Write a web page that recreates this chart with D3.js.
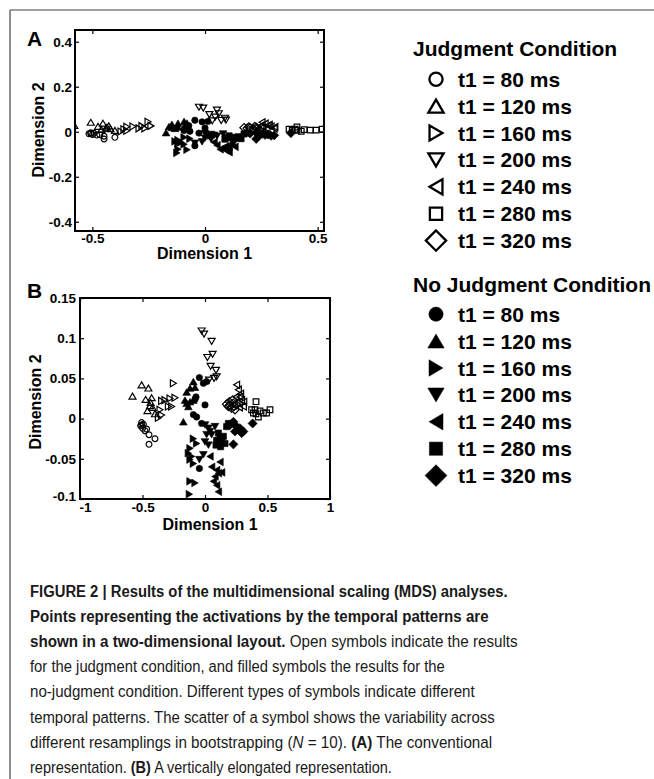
<!DOCTYPE html>
<html>
<head>
<meta charset="utf-8">
<script src="https://cdn.jsdelivr.net/npm/d3@7"></script>
<style>
  html, body { margin: 0; padding: 0; background: #fff; }
  svg { display: block; }
</style>
</head>
<body>
<div id="chart"></div>
<script>
// ---------------- DATA ----------------
const conditions = ["Judgment Condition", "No Judgment Condition"];
const t1Labels = ["t1 = 80 ms", "t1 = 120 ms", "t1 = 160 ms", "t1 = 200 ms", "t1 = 240 ms", "t1 = 280 ms", "t1 = 320 ms"];

// Judgment condition (open symbols): [Dimension 1, Dimension 2]
const j80  = [[-0.507,-0.005],[-0.515,-0.009],[-0.499,-0.012],[-0.480,-0.015],[-0.448,-0.020],[-0.400,-0.025],[-0.448,-0.032],[-0.467,-0.013],[-0.493,-0.007],[-0.507,-0.008]];
const j120 = [[-0.580,0.028],[-0.507,0.042],[-0.453,0.038],[-0.475,0.024],[-0.427,0.026],[-0.440,0.016],[-0.420,0.014],[-0.460,0.010],[-0.400,0.006],[-0.435,0.020]];
const j160 = [[-0.253,0.044],[-0.347,0.022],[-0.320,0.023],[-0.280,0.025],[-0.240,0.026],[-0.293,0.015],[-0.267,0.015],[-0.360,0.011],[-0.347,0.0045],[-0.373,0.001]];
const j200 = [[-0.027,0.109],[-0.008,0.105],[0.053,0.096],[0.061,0.080],[0.019,0.076],[0.045,0.065],[0.088,0.060],[0.093,0.052],[0.072,0.050],[0.032,0.048]];
const j240 = [[0.253,0.042],[0.267,0.036],[0.280,0.027],[0.293,0.023],[0.307,0.015],[0.275,0.014],[0.248,0.027],[0.285,0.031],[0.310,0.021],[0.256,0.020]];
const j280 = [[0.408,0.021],[0.373,0.011],[0.400,0.011],[0.440,0.0095],[0.467,0.007],[0.493,0.007],[0.520,0.011],[0.427,0.002],[0.408,0.006],[0.387,0.007]];
const j320 = [[0.200,0.017],[0.227,0.019],[0.187,0.015],[0.213,0.013],[0.240,0.011],[0.173,0.018],[0.221,0.023],[0.253,0.017],[0.195,0.021],[0.232,0.015]];

// No-judgment condition (filled symbols)
const n80  = [[-0.045,0.051],[-0.013,0.044],[0.013,0.046],[-0.072,0.027],[0.000,0.017],[-0.093,0.005],[-0.067,0.002],[-0.027,-0.006],[-0.045,-0.062],[-0.080,0.024]];
const n120 = [[-0.147,0.033],[-0.173,-0.004],[-0.120,0.038],[-0.093,0.046],[-0.147,0.019],[-0.120,0.021],[-0.133,0.015],[-0.093,0.023],[-0.080,0.039],[-0.160,0.023]];
const n160 = [[-0.093,-0.025],[-0.120,-0.037],[-0.133,-0.043],[-0.120,-0.051],[-0.093,-0.056],[-0.120,-0.078],[-0.080,-0.080],[-0.125,-0.094],[-0.107,-0.047],[-0.067,-0.031]];
const n200 = [[0.000,-0.008],[0.027,-0.012],[0.013,-0.020],[0.040,-0.016],[0.000,-0.029],[0.027,-0.033],[-0.013,-0.045],[-0.045,-0.051],[0.053,-0.020],[0.080,-0.010]];
const n240 = [[0.120,-0.054],[0.093,-0.064],[0.107,-0.068],[0.133,-0.067],[0.080,-0.072],[0.053,-0.060],[0.093,-0.083],[0.107,-0.091],[0.067,-0.078],[0.040,-0.047]];
const n280 = [[0.107,-0.018],[0.120,-0.025],[0.133,-0.029],[0.093,-0.027],[0.147,-0.022],[0.173,-0.010],[0.187,-0.006],[0.160,-0.031],[0.125,-0.035],[0.088,-0.033]];
const n320 = [[0.227,-0.004],[0.253,-0.010],[0.267,-0.014],[0.293,-0.018],[0.307,-0.016],[0.227,-0.032],[0.381,-0.006],[0.200,-0.008],[0.280,-0.012],[0.240,-0.016]];

const judgmentSeries = [j80, j120, j160, j200, j240, j280, j320];
const noJudgmentSeries = [n80, n120, n160, n200, n240, n280, n320];

// Axis ticks
const aXTicks = [-0.5, 0, 0.5];
const aXTickLabels = ["-0.5", "0", "0.5"];
const aYTicks = [-0.4, -0.2, 0, 0.2, 0.4];
const aYTickLabels = ["-0.4", "-0.2", "0", "0.2", "0.4"];
const bXTicks = [-1, -0.5, 0, 0.5, 1];
const bXTickLabels = ["-1", "-0.5", "0", "0.5", "1"];
const bYTicks = [-0.1, -0.05, 0, 0.05, 0.1, 0.15];
const bYTickLabels = ["-0.1", "-0.05", "0", "0.05", "0.1", "0.15"];

const captionLines = [
  [["b","FIGURE 2 | Results of the multidimensional scaling (MDS) analyses."]],
  [["b","Points representing the activations by the temporal patterns are"]],
  [["b","shown in a two-dimensional layout."],["n"," Open symbols indicate the results"]],
  [["n","for the judgment condition, and filled symbols the results for the"]],
  [["n","no-judgment condition. Different types of symbols indicate different"]],
  [["n","temporal patterns. The scatter of a symbol shows the variability across"]],
  [["n","different resamplings in bootstrapping ("],["i","N"],["n"," = 10). "],["b","(A)"],["n"," The conventional"]],
  [["n","representation. "],["b","(B)"],["n"," A vertically elongated representation."]]
];
const captionWidths = [478, 459, 488, 415, 445, 465, 463, 362];

// ---------------- DRAWING ----------------
const W = 654, H = 779;
const FONT = "'Liberation Sans', Arial, Helvetica, sans-serif";
const svg = d3.select("#chart").append("svg").attr("width", W).attr("height", H)
  .style("font-family", FONT);

// figure frame
svg.append("line").attr("x1", 10).attr("y1", 10).attr("x2", W).attr("y2", 10)
  .attr("stroke", "#444").attr("stroke-width", 1.2);
svg.append("line").attr("x1", 10).attr("y1", 10).attr("x2", 10).attr("y2", H)
  .attr("stroke", "#444").attr("stroke-width", 1.2);

const shapeTypes = ["circle", "up", "right", "down", "left", "square", "diamond"];
function shapePath(type, s) {
  const h = s * 0.85;
  switch (type) {
    case "circle": return `M${-s},0a${s},${s} 0 1,0 ${2*s},0a${s},${s} 0 1,0 ${-2*s},0Z`;
    case "up": return `M0,${-h}L${s},${h}L${-s},${h}Z`;
    case "down": return `M0,${h}L${s},${-h}L${-s},${-h}Z`;
    case "right": return `M${h},0L${-h},${-s}L${-h},${s}Z`;
    case "left": return `M${-h},0L${h},${-s}L${h},${s}Z`;
    case "square": return `M${-h},${-h}H${h}V${h}H${-h}Z`;
    case "diamond": { const d = s * 1.3; return `M0,${-d}L${d},0L0,${d}L${-d},0Z`; }
  }
}
const plotSize = { circle: 2.9, up: 3.5, down: 3.5, right: 3.5, left: 3.5, square: 3.3, diamond: 3.2 };

function drawPanel(cfg) {
  const x = d3.scaleLinear().domain(cfg.xDomain).range([cfg.left, cfg.right]);
  const y = d3.scaleLinear().domain(cfg.yDomain).range([cfg.bottom, cfg.top]);
  const g = svg.append("g");

  const fmt = (ticks, labels) => v => labels[ticks.indexOf(v)];
  const styleAxis = sel => {
    sel.select(".domain").remove();
    sel.selectAll(".tick line").attr("stroke", "#000").attr("stroke-width", 1.2);
    sel.selectAll(".tick text").attr("fill", "#000").style("font-family", FONT)
      .style("font-weight", "bold").style("font-size", "13.5px");
  };
  const xAx = g.append("g").attr("transform", `translate(0,${cfg.bottom})`)
    .call(d3.axisBottom(x).tickValues(cfg.xTicks).tickFormat(fmt(cfg.xTicks, cfg.xTickLabels))
      .tickSizeInner(-4).tickSizeOuter(0).tickPadding(cfg.xPad)).call(styleAxis);
  // nudge a label that would touch the y labels at the corner
  xAx.selectAll(".tick text").filter(d => x(d) <= cfg.left + 0.5).attr("dx", cfg.cornerDx);
  g.append("g").attr("transform", `translate(0,${cfg.top})`)
    .call(d3.axisTop(x).tickValues(cfg.xTicks).tickFormat("")
      .tickSizeInner(-4).tickSizeOuter(0)).call(styleAxis);
  const yAx = g.append("g").attr("transform", `translate(${cfg.left},0)`)
    .call(d3.axisLeft(y).tickValues(cfg.yTicks).tickFormat(fmt(cfg.yTicks, cfg.yTickLabels))
      .tickSizeInner(-4).tickSizeOuter(0).tickPadding(cfg.yPad)).call(styleAxis);
  yAx.selectAll(".tick text").filter(d => y(d) >= cfg.bottom - 0.5).attr("dy", cfg.cornerDy);
  g.append("g").attr("transform", `translate(${cfg.right},0)`)
    .call(d3.axisRight(y).tickValues(cfg.yTicks).tickFormat("")
      .tickSizeInner(-4).tickSizeOuter(0)).call(styleAxis);

  // box
  g.append("rect").attr("x", cfg.left).attr("y", cfg.top)
    .attr("width", cfg.right - cfg.left).attr("height", cfg.bottom - cfg.top)
    .attr("fill", "none").attr("stroke", "#000").attr("stroke-width", 2);

  const clipId = "clip" + cfg.name;
  svg.append("clipPath").attr("id", clipId).append("rect")
    .attr("x", cfg.left).attr("y", cfg.top)
    .attr("width", cfg.right - cfg.left).attr("height", cfg.bottom - cfg.top);
  const pts = g.append("g").attr("clip-path", `url(#${clipId})`);

  judgmentSeries.forEach((series, i) => {
    const t = shapeTypes[i];
    pts.selectAll(null).data(series).enter().append("path")
      .attr("d", shapePath(t, plotSize[t]))
      .attr("transform", d => `translate(${x(d[0])},${y(d[1])})`)
      .attr("fill", "none").attr("stroke", "#000").attr("stroke-width", 1.2);
  });
  noJudgmentSeries.forEach((series, i) => {
    const t = shapeTypes[i];
    pts.selectAll(null).data(series).enter().append("path")
      .attr("d", shapePath(t, plotSize[t] * 1.1))
      .attr("transform", d => `translate(${x(d[0])},${y(d[1])})`)
      .attr("fill", "#000").attr("stroke", "#000").attr("stroke-width", 0.6);
  });

  // titles
  g.append("text").attr("x", (cfg.left + cfg.right) / 2 + 5).attr("y", cfg.xTitleY)
    .attr("text-anchor", "middle").style("font-weight", "bold").style("font-size", "16px")
    .text("Dimension 1");
  g.append("text").attr("transform", `translate(${cfg.yTitleX},${cfg.yTitleCY}) rotate(-90)`)
    .attr("text-anchor", "middle").style("font-weight", "bold").style("font-size", "16px")
    .text("Dimension 2");
  g.append("text").attr("x", 27).attr("y", cfg.labelY)
    .style("font-weight", "bold").style("font-size", "21px").text(cfg.name);
}

drawPanel({ name: "A", left: 75, right: 324, top: 30, bottom: 231,
  xDomain: [-0.577, 0.528], yDomain: [-0.441, 0.452],
  xTicks: aXTicks, xTickLabels: aXTickLabels, yTicks: aYTicks, yTickLabels: aYTickLabels,
  xPad: 2, yPad: 3, cornerDx: 0, cornerDy: "0.32em",
  xTitleY: 259, yTitleX: 44, yTitleCY: 130, labelY: 46 });
drawPanel({ name: "B", left: 80, right: 330, top: 298, bottom: 499,
  xDomain: [-1, 1], yDomain: [-0.1, 0.15],
  xTicks: bXTicks, xTickLabels: bXTickLabels, yTicks: bYTicks, yTickLabels: bYTickLabels,
  xPad: 3, yPad: 4, cornerDx: 5, cornerDy: "0.1em",
  xTitleY: 530, yTitleX: 41, yTitleCY: 402, labelY: 298 });

// ---------------- LEGEND ----------------
const legend = svg.append("g");
const legendTitleY = [56, 291.7];
const legendStep = 26.9;
const legendFirstY = [86.7, 321.7];
const legendSize = { circle: 6.6, up: 7.6, down: 7.6, right: 7.6, left: 7.6, square: 7.2, diamond: 7.8 };
conditions.forEach((c, ci) => {
  legend.append("text").attr("x", 413).attr("y", legendTitleY[ci])
    .style("font-weight", "bold").style("font-size", "21px").text(c);
  t1Labels.forEach((lab, i) => {
    const by = legendFirstY[ci] + i * legendStep;
    const t = shapeTypes[i];
    const filled = ci === 1;
    legend.append("path")
      .attr("d", shapePath(t, legendSize[t] * (filled ? 1.08 : 1)))
      .attr("transform", `translate(436,${by - 7.5})`)
      .attr("fill", filled ? "#000" : "none").attr("stroke", "#000")
      .attr("stroke-width", filled ? 0.5 : 2.3).attr("stroke-linejoin", "miter");
    legend.append("text").attr("x", 458).attr("y", by)
      .style("font-weight", "bold").style("font-size", "21px").text(lab);
  });
});

// ---------------- CAPTION ----------------
const cap = svg.append("g");
captionLines.forEach((parts, i) => {
  const t = cap.append("text").attr("x", 0).attr("y", 0)
    .style("font-size", "17px").attr("fill", "#1a1a1a");
  parts.forEach(([k, s]) => {
    const sp = t.append("tspan").text(s);
    if (k === "b") sp.style("font-weight", "bold");
    if (k === "i") sp.style("font-style", "italic");
  });
  const w = t.node().getComputedTextLength();
  const sx = captionWidths[i] / w;
  t.attr("transform", `translate(30,${597 + i * 25.1}) scale(${sx},1)`);
});
</script>
</body>
</html>
